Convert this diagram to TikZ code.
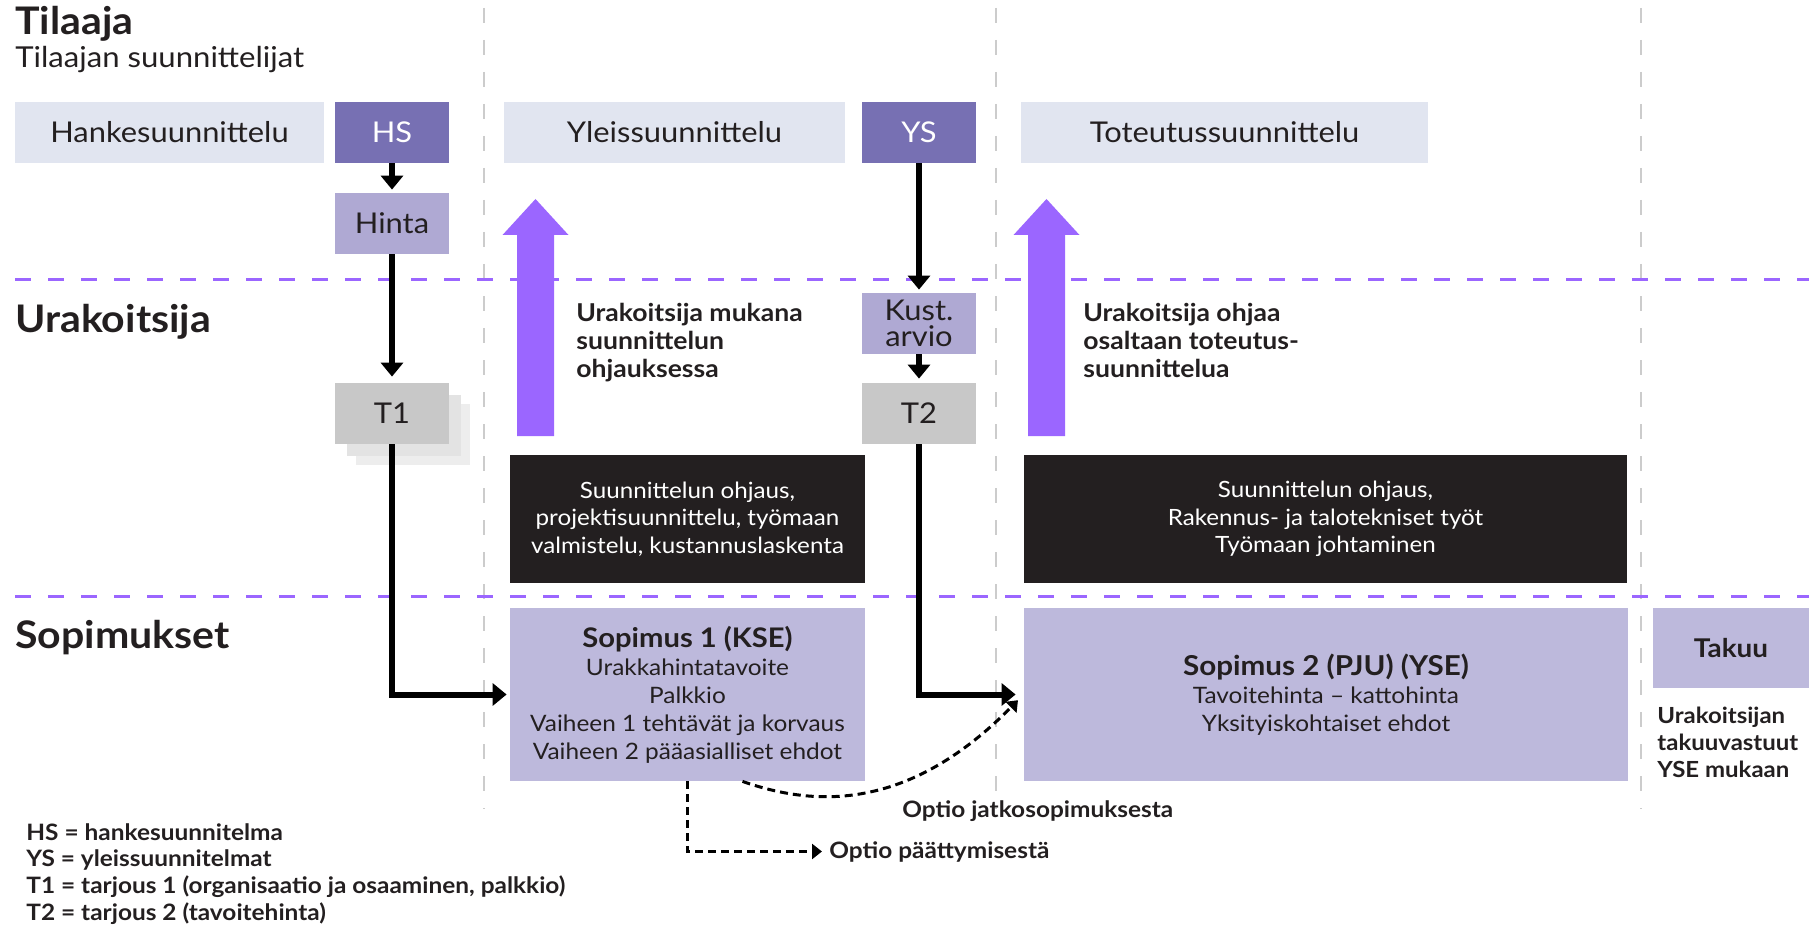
\documentclass[tikz,border=0pt]{standalone}
\usepackage{fontspec}
\setmainfont{Lato}[FakeStretch=1.08]
\usetikzlibrary{arrows.meta,calc}
\definecolor{ink}{HTML}{231F20}
\definecolor{pale}{HTML}{E1E5F0}
\definecolor{deep}{HTML}{7770B3}
\definecolor{mid}{HTML}{AFA9D3}
\definecolor{sopc}{HTML}{BDB9DC}
\definecolor{tgray}{HTML}{C8C8C8}
\definecolor{lilac}{HTML}{9B66FF}

\begin{document}
\begin{tikzpicture}[x=0.5pt,y=-0.5pt,line join=miter,text=ink,
  box/.style={inner sep=0pt,minimum height=30.5pt,minimum width=57pt,font=\fontsize{14.3}{16}\selectfont},
  dark/.style={inner sep=0pt,fill=ink,text=white,align=center,minimum height=64pt,font=\fontsize{11.2}{13.75}\selectfont},
  sopbox/.style={inner sep=0pt,fill=sopc,align=center,minimum height=86.5pt,font=\fontsize{11.3}{14}\selectfont},
  head/.style={anchor=base west,inner sep=0pt,font=\bfseries\fontsize{19}{22}\selectfont},
  note/.style={anchor=base west,inner sep=0pt,align=left,font=\bfseries\fontsize{12.3}{14}\selectfont},
  conn/.style={line width=3pt,-{Triangle[width=11pt,length=7pt]}},
  dconn/.style={line width=1.5pt,dash pattern=on 4pt off 2.5pt,-{Triangle[width=7.5pt,length=5pt]}}]
\useasboundingbox (0,0) rectangle (1809,925);
\foreach \x in {484,996,1641} \draw[black!20,line width=1pt,dash pattern=on 7.5pt off 8.5pt] (\x,8) -- (\x,809);
\foreach \y in {280,596} \draw[lilac,line width=1.5pt,dash pattern=on 8pt off 8.5pt] (15,\y) -- (1809,\y);

\node[head] (tilaaja) at (15,35) {Tilaaja};
\node[anchor=base west,inner sep=0pt,font=\fontsize{14.4}{16}\selectfont] (tsuun) at (15,68) {Tilaajan suunnittelijat};
\node[head] (urak) at (15,332) {Urakoitsija};
\node[head] (sopim) at (15,648) {Sopimukset};

\node[box,fill=pale,minimum width=154.5pt] (hanke) at (169.5,132.5) {Hankesuunnittelu};
\node[box,fill=deep,text=white] (hs) at (392,132.5) {HS};
\node[box,fill=mid] (hinta) at (392,223.5) {Hinta};
\node[box,fill=black!7] (t1c) at (413,434.5) {};
\node[box,fill=black!11] (t1b) at (404,425.5) {};
\node[box,fill=tgray] (t1) at (392,413.5) {T1};
\node[box,fill=pale,minimum width=170.5pt] (yleis) at (674.5,132.5) {Yleissuunnittelu};
\node[box,fill=deep,text=white] (ys) at (919,132.5) {YS};
\node[box,fill=mid,align=center,font=\fontsize{14.3}{13}\selectfont] (kust) at (919,323.5) {Kust.\\arvio};
\node[box,fill=tgray] (t2) at (919,413.5) {T2};
\node[box,fill=pale,minimum width=203.5pt] (tote) at (1224.5,132.5) {Toteutussuunnittelu};

\foreach \c in {535.5,1046.5}
  \fill[lilac] (\c-18.5,436) -- (\c-18.5,235) -- (\c-33,235) -- (\c,199) -- (\c+33,235) -- (\c+18.5,235) -- (\c+18.5,436) -- cycle;
\node[note] (mukana) at (576,377) {Urakoitsija mukana\\suunnittelun\\ohjauksessa};
\node[note] (ohjaa) at (1083,377) {Urakoitsija ohjaa\\osaltaan toteutus-\\suunnittelua};

\node[dark,minimum width=177.5pt] (work1) at (687.5,519) {Suunnittelun ohjaus,\\projektisuunnittelu, työmaan\\valmistelu, kustannuslaskenta};
\node[dark,minimum width=301.5pt] (work2) at (1325.5,519) {Suunnittelun ohjaus,\\Rakennus- ja talotekniset työt\\Työmaan johtaminen};

\node[sopbox,minimum width=177.5pt] (sop1) at (687.5,694.5) {{\bfseries\fontsize{13.5}{14}\selectfont Sopimus 1 (KSE)}\\Urakkahintatavoite\\Palkkio\\Vaiheen 1 tehtävät ja korvaus\\Vaiheen 2 pääasialliset ehdot};
\node[sopbox,minimum width=302pt] (sop2) at (1326,694.5) {{\bfseries\fontsize{13.7}{14}\selectfont Sopimus 2 (PJU) (YSE)}\\Tavoitehinta – kattohinta\\Yksityiskohtaiset ehdot};
\node[inner sep=0pt,fill=sopc,minimum width=78pt,minimum height=40pt,font=\bfseries\fontsize{12.9}{14}\selectfont] (takuu) at (1731,648) {Takuu};
\node[note,font=\bfseries\fontsize{11.1}{13.3}\selectfont] (vastuu) at (1657,777) {Urakoitsijan\\takuuvastuut\\YSE mukaan};

\draw[conn,shorten >=1.5pt] (hs) -- (hinta);
\draw[conn,shorten >=3pt] (hinta) -- (t1);
\draw[conn,shorten >=1.5pt] (ys) -- (kust);
\draw[conn,shorten >=2pt] (kust) -- (t2);
\draw[conn,shorten >=1.5pt] (t1.south) |- (sop1.west);
\draw[conn,shorten >=4pt] (t2.south) |- (sop2.west);

\node[note,font=\bfseries\fontsize{11.3}{14}\selectfont] (optp) at (829,858) {Optio päättymisestä};
\node[note,font=\bfseries\fontsize{11.3}{14}\selectfont] (optj) at (902,817) {Optio jatkosopimuksesta};
\draw[dconn,shorten >=3.5pt] (sop1.south) |- (optp.west);
\draw[dconn,shorten >=4pt] ($(sop1.south)+(55,0)$) .. controls (810,805) and (905,815) .. (sop2.west);

\node[note,font=\bfseries\fontsize{11.3}{13.3}\selectfont] (legend) at (26,920) {HS = hankesuunnitelma\\YS = yleissuunnitelmat\\T1 = tarjous 1 (organisaatio ja osaaminen, palkkio)\\T2 = tarjous 2 (tavoitehinta)};
\end{tikzpicture}
\end{document}
